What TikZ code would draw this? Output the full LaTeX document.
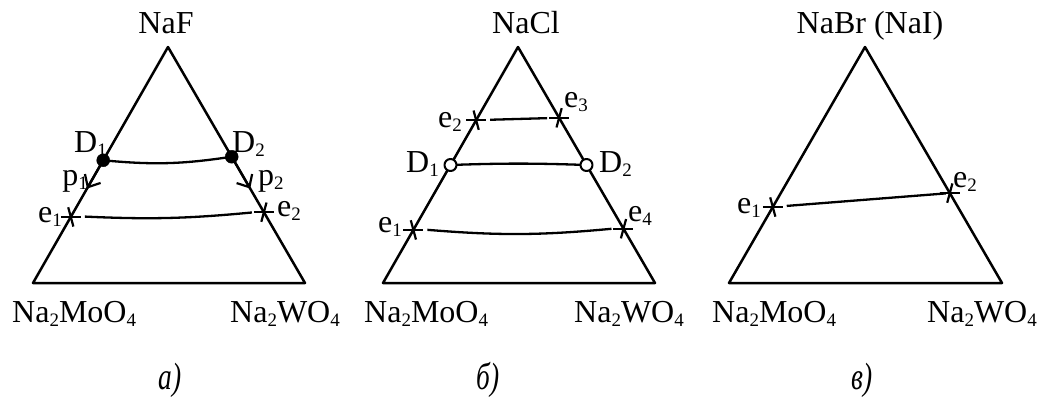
\documentclass[tikz,border=0pt]{standalone}
\usepackage{fontspec}
\setmainfont{Liberation Serif}
\usetikzlibrary{calc,arrows.meta}
\newcommand\subd[1]{\raisebox{-4pt}{\fontsize{19}{19}\selectfont #1}}
\newcommand\capt[1]{\scalebox{0.72}[1]{\fontsize{38}{40}\selectfont\itshape #1}}
\begin{document}
\begin{tikzpicture}[x=1pt,y=1pt,line join=round,
  edge/.style={line width=2.5pt},
  mk/.style={line width=2.2pt},
  curve/.style={line width=2.3pt},
  lblw/.style={inner sep=0pt,anchor=base west,font=\fontsize{32}{36}\selectfont},
  lble/.style={inner sep=0pt,anchor=base east,font=\fontsize{32}{36}\selectfont},
  ttl/.style={inner sep=0pt,anchor=base,font=\fontsize{32}{36}\selectfont},
  captionlbl/.style={inner sep=0pt,anchor=center},
  arr/.style={line width=2.2pt,-{Straight Barb[length=10pt,width=18pt,line width=2.2pt]}},
  filledpt/.style={circle,fill=black,draw=black,inner sep=0pt,minimum size=13pt},
  openpt/.style={circle,fill=white,draw=black,line width=2pt,inner sep=0pt,minimum size=12pt},
  crossL/.pic={\draw[mk] (-10,0)--(10,0); \draw[mk] (105:10)--(285:10);},
  crossR/.pic={\draw[mk] (-10,0)--(10,0); \draw[mk] (75:10)--(255:10);}
]
\useasboundingbox (0,0) rectangle (1045,-410);

% ---------------- panel a ----------------
\coordinate (aA) at (168,-47);
\coordinate (aB) at (33,-283);
\coordinate (aC) at (305,-283);
\draw[edge] (aA) -- (aB) -- (aC) -- cycle;
\coordinate (aD1) at ($(aB)!0.52!(aA)$);
\coordinate (aD2) at ($(aC)!0.535!(aA)$);
\coordinate (ae1) at ($(aB)!0.28!(aA)$);
\coordinate (ae2) at ($(aC)!0.30!(aA)$);
\coordinate (ap1) at ($(aB)!0.40!(aA)$);
\coordinate (ap2) at ($(aC)!0.40!(aA)$);
\draw[arr] (aD1) -- (ap1);
\draw[arr] (aD2) -- (ap2);
\draw[curve] (aD1) to[bend right=7] (aD2);
\draw[curve] ($(ae1)!14pt!(ae2)$) to[bend right=4] ($(ae2)!12pt!(ae1)$);
\node[filledpt] (aD1n) at (aD1) {};
\node[filledpt] (aD2n) at (aD2) {};
\pic at (ae1) {crossL};
\pic at (ae2) {crossR};
\node[ttl] (aNaF) at (166,-33) {NaF};
\node[lble] (aD1l) at (107,-152) {D\subd{1}};
\node[lblw] (aD2l) at (232,-152) {D\subd{2}};
\node[lble] (ap1l) at (88,-185) {p\subd{1}};
\node[lblw] (ap2l) at (258,-185) {p\subd{2}};
\node[lble] (ae1l) at (62,-222) {e\subd{1}};
\node[lblw] (ae2l) at (277,-216) {e\subd{2}};
\node[lblw] (aMo) at (12,-322) {Na\subd{2}MoO\subd{4}};
\node[lblw] (aW) at (230,-322) {Na\subd{2}WO\subd{4}};
\node[captionlbl] (acap) at (170,-380) {\capt{а)}};

% ---------------- panel b ----------------
\coordinate (bA) at (518,-47);
\coordinate (bB) at (383,-283);
\coordinate (bC) at (655,-283);
\draw[edge] (bA) -- (bB) -- (bC) -- cycle;
\coordinate (be2) at ($(bB)!0.69!(bA)$);
\coordinate (be3) at ($(bC)!0.70!(bA)$);
\coordinate (bD1) at ($(bB)!0.50!(bA)$);
\coordinate (bD2) at ($(bC)!0.50!(bA)$);
\coordinate (be1) at ($(bB)!0.225!(bA)$);
\coordinate (be4) at ($(bC)!0.23!(bA)$);
\draw[curve] ($(be2)!14pt!(be3)$) -- ($(be3)!12pt!(be2)$);
\draw[curve] (bD1) to[bend left=2] (bD2);
\draw[curve] ($(be1)!14pt!(be4)$) to[bend right=5] ($(be4)!12pt!(be1)$);
\node[openpt] (bD1n) at (bD1) {};
\node[openpt] (bD2n) at (bD2) {};
\pic at (be2) {crossL};
\pic at (be3) {crossR};
\pic at (be1) {crossL};
\pic at (be4) {crossR};
\node[ttl] (bNaCl) at (526,-33) {NaCl};
\node[lble] (be2l) at (462,-127) {e\subd{2}};
\node[lblw] (be3l) at (564,-107) {e\subd{3}};
\node[lble] (bD1l) at (439,-172) {D\subd{1}};
\node[lblw] (bD2l) at (599,-172) {D\subd{2}};
\node[lble] (be1l) at (402,-232) {e\subd{1}};
\node[lblw] (be4l) at (628,-221) {e\subd{4}};
\node[lblw] (bMo) at (364,-322) {Na\subd{2}MoO\subd{4}};
\node[lblw] (bW) at (574,-322) {Na\subd{2}WO\subd{4}};
\node[captionlbl] (bcap) at (488,-380) {\capt{б)}};

% ---------------- panel c ----------------
\coordinate (cA) at (865,-47);
\coordinate (cB) at (729,-283);
\coordinate (cC) at (1002,-283);
\draw[edge] (cA) -- (cB) -- (cC) -- cycle;
\coordinate (ce1) at ($(cB)!0.322!(cA)$);
\coordinate (ce2) at ($(cC)!0.381!(cA)$);
\draw[curve] ($(ce1)!14pt!(ce2)$) -- ($(ce2)!4pt!(ce1)$);
\pic at (ce1) {crossL};
\pic at (ce2) {crossR};
\node[ttl] (cNaBr) at (870,-33) {NaBr (NaI)};
\node[lble] (ce1l) at (761,-213) {e\subd{1}};
\node[lblw] (ce2l) at (953,-187) {e\subd{2}};
\node[lblw] (cMo) at (712,-322) {Na\subd{2}MoO\subd{4}};
\node[lblw] (cW) at (927,-322) {Na\subd{2}WO\subd{4}};
\node[captionlbl] (ccap) at (862,-380) {\capt{в)}};
\end{tikzpicture}
\end{document}
